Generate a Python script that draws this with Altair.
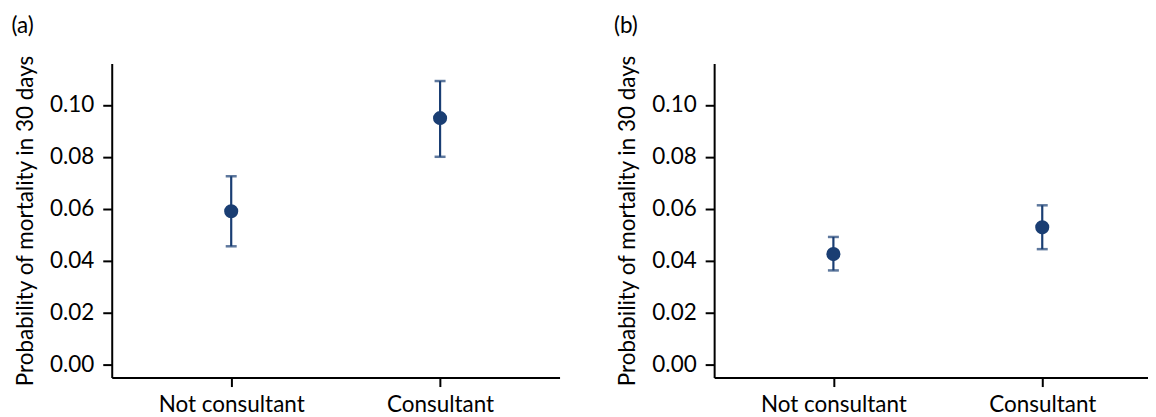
import altair as alt
import pandas as pd

groups = ["Not consultant", "Consultant"]
est_a = [0.059, 0.0949]
lo_a = [0.0455, 0.0800]
hi_a = [0.0725, 0.1092]
est_b = [0.0425, 0.0528]
lo_b = [0.0362, 0.0444]
hi_b = [0.0491, 0.0613]
y_ticks = [0.0, 0.02, 0.04, 0.06, 0.08, 0.10]
y_title = "Probability of mortality in 30 days"

NAVY = "#1a3e73"
FONT = "Lato"
FS = 22.5


def panel(label, est, lo, hi, width, padding, align):
    df = pd.DataFrame({"group": groups, "est": est, "lo": lo, "hi": hi})
    x = alt.X(
        "group:N",
        sort=groups,
        scale=alt.Scale(type="point", padding=padding, align=align),
        axis=alt.Axis(title=None, labelAngle=0, labelPadding=7),
    )
    y_scale = alt.Scale(domain=[-0.0051, 0.116], nice=False, zero=False)
    y_axis = alt.Axis(
        title=y_title, values=y_ticks, format=".2f", titlePadding=12, labelPadding=9
    )
    base = alt.Chart(df)
    rule = base.mark_rule(color=NAVY, strokeWidth=2.2).encode(
        x=x, y=alt.Y("lo:Q", scale=y_scale, axis=y_axis), y2="hi:Q"
    )
    cap_lo = base.mark_tick(color=NAVY, thickness=2.5, size=11, orient="horizontal").encode(
        x=x, y=alt.Y("lo:Q", scale=y_scale)
    )
    cap_hi = base.mark_tick(color=NAVY, thickness=2.5, size=11, orient="horizontal").encode(
        x=x, y=alt.Y("hi:Q", scale=y_scale)
    )
    pts = base.mark_point(filled=True, color=NAVY, opacity=1, size=200, shape="circle").encode(
        x=x, y=alt.Y("est:Q", scale=y_scale)
    )
    return alt.layer(rule, cap_lo, cap_hi, pts).properties(
        width=width,
        height=315,
        title=alt.TitleParams(
            label, anchor="start", fontSize=FS, font=FONT, fontWeight="normal",
            color="black", offset=17, dx=-3,
        ),
    )


pa = panel("(a)", est_a, lo_a, hi_a, 449, 0.572, 0.5)
pb = panel("(b)", est_b, lo_b, hi_b, 435, 0.5387, 0.53)

chart = (
    alt.hconcat(pa, pb, spacing=155, bounds="flush")
    .properties(padding={"left": 3, "top": 6, "right": 0, "bottom": 0})
    .configure_view(stroke=None)
    .configure_axis(
        labelFont=FONT,
        titleFont=FONT,
        labelFontSize=FS,
        titleFontSize=FS,
        titleFontWeight="normal",
        labelColor="black",
        titleColor="black",
        domainColor="black",
        tickColor="black",
        domainWidth=2,
        tickWidth=2,
        tickSize=9,
        grid=False,
    )
)

chart.save("out.html", embed_options={"renderer": "svg", "actions": False})
